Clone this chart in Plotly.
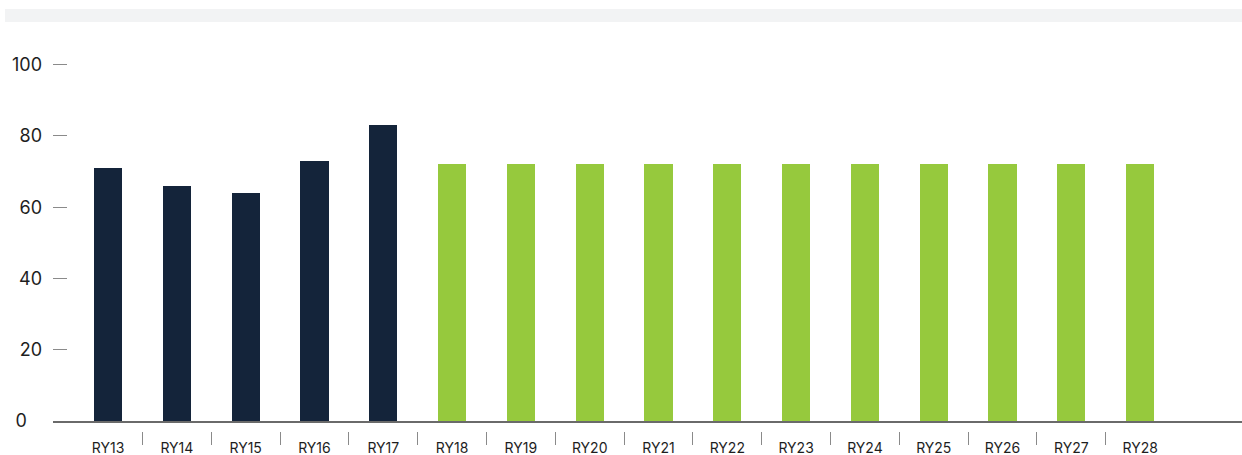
import plotly.graph_objects as go

# Reporting years and their values
years = ["RY13", "RY14", "RY15", "RY16", "RY17", "RY18", "RY19", "RY20",
         "RY21", "RY22", "RY23", "RY24", "RY25", "RY26", "RY27", "RY28"]
actual_values = [71, 66, 64, 73, 83]
projected_values = [72] * 11
y_tick_values = [0, 20, 40, 60, 80, 100]
y_tick_text = ["0\u00a0\u00a0\u00a0", "20", "40", "60", "80", "100"]

NAVY = "#14243a"
GREEN = "#96c93d"
FONT = "Inter, Lato, sans-serif"

n = len(years)
x_idx = list(range(n))
n_act = len(actual_values)

fig = go.Figure()
fig.add_trace(go.Bar(x=x_idx[:n_act], y=actual_values, marker_color=NAVY,
                     marker_line_width=0, width=0.41, hoverinfo="y"))
fig.add_trace(go.Bar(x=x_idx[n_act:], y=projected_values, marker_color=GREEN,
                     marker_line_width=0, width=0.41, hoverinfo="y"))

# invisible helper trace so the boundary-tick axis is drawn
fig.add_trace(go.Scatter(x=[0], y=[0], xaxis="x2", mode="markers",
                         marker=dict(opacity=0), hoverinfo="skip"))

x_range = [-0.80, 16.48]

fig.update_layout(
    width=1242, height=455,
    margin=dict(l=53, r=0, t=30, b=24),
    plot_bgcolor="white", paper_bgcolor="white",
    showlegend=False,
    bargap=0,
    font=dict(family=FONT, color="#1e1e1e"),
    xaxis=dict(
        range=x_range,
        tickmode="array", tickvals=x_idx, ticktext=years,
        ticks="", showgrid=False, zeroline=False,
        showline=True, linecolor="#6a6a6a", linewidth=1.5,
        tickfont=dict(size=14, family=FONT, color="#1e1e1e"),
        ticklabelstandoff=13,
        anchor="y",
    ),
    xaxis2=dict(
        range=x_range, overlaying="x", anchor="free", position=0,
        side="bottom",
        tickmode="array", tickvals=[i + 0.5 for i in x_idx[:-1]],
        ticks="outside", ticklen=13, tickwidth=1, tickcolor="#8a8a8a",
        showticklabels=False, showgrid=False, zeroline=False, showline=False,
    ),
    yaxis=dict(
        range=[0, 109.75], domain=[10 / 401, 1],
        tickmode="array", tickvals=y_tick_values, ticktext=y_tick_text,
        ticks="inside", ticklen=14, tickwidth=1, tickcolor="#8a8a8a",
        showgrid=False, zeroline=False, showline=False,
        tickfont=dict(size=18, family=FONT, color="#1e1e1e"),
        ticklabelstandoff=10,
    ),
    shapes=[dict(
        type="rect", xref="paper", yref="paper",
        x0=-48 / 1189, x1=1.0, y0=1.02, y1=1.0524,
        fillcolor="#f2f3f4", line=dict(width=0), layer="below",
    )],
)

fig.write_html("out.html")
